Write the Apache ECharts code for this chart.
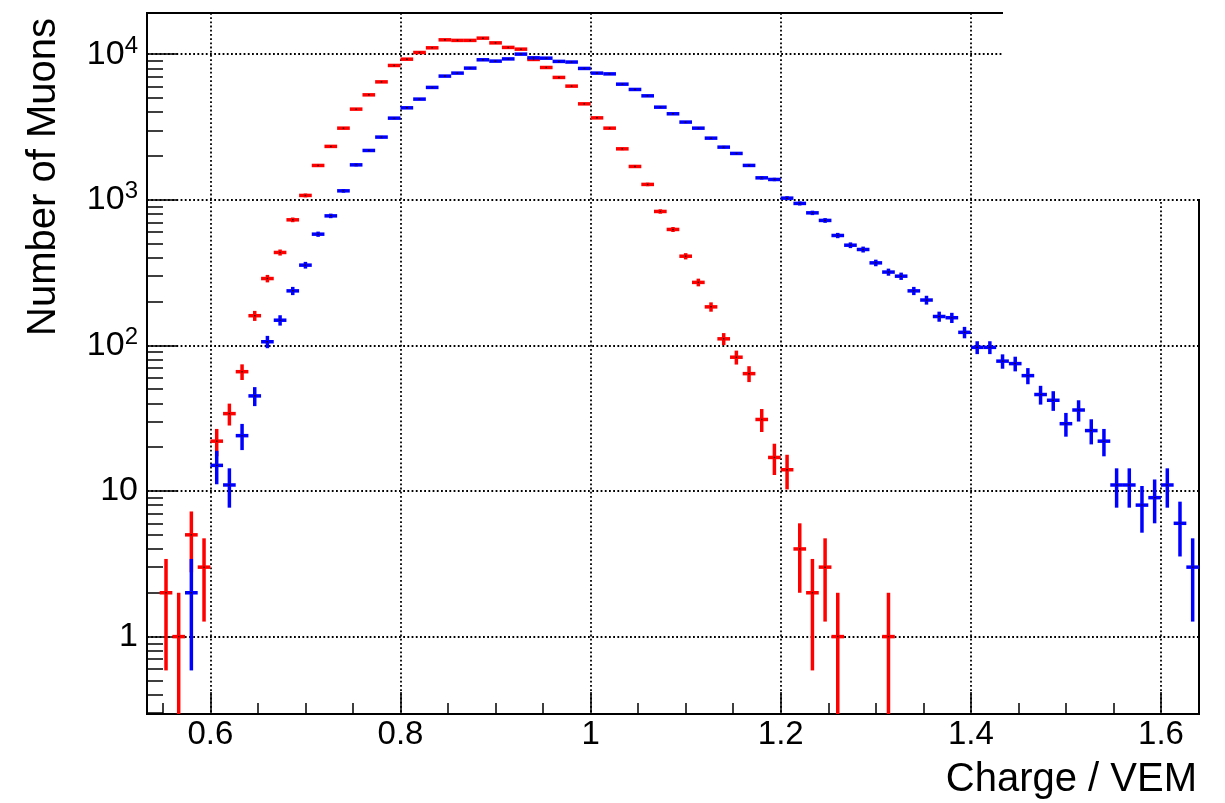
<!DOCTYPE html>
<html>
<head>
<meta charset="utf-8">
<script src="https://cdn.jsdelivr.net/npm/echarts@6/dist/echarts.min.js"></script>
<style>
html,body{margin:0;padding:0;background:#fff;}
#chart{width:1225px;height:803px;}
</style>
</head>
<body>
<div id="chart"></div>
<script>
// Histogram binning (bins of width 1/75 starting at 40/75)
const binLow = 40 / 75;
const binWidth = 1 / 75;
const binCount = 83;

// Counts per bin (red histogram)
const redCounts = [
  0, 2, 1, 5, 3, 22, 34, 66, 160, 288,
  435, 729, 1072, 1722, 2328, 3107, 4198, 5262, 6460, 8374,
  9250, 10280, 11070, 12560, 12450, 12450, 12900, 11970, 11140, 10840,
  9210, 8110, 6930, 6040, 4563, 3656, 3107, 2240, 1695, 1276,
  832, 626, 410, 271, 184, 111, 83, 64, 31, 17,
  14, 4, 2, 3, 1, 0, 0, 0, 1, 0,
  0, 0, 0, 0, 0, 0, 0, 0, 0, 0,
  0, 0, 0, 0, 0, 0, 0, 0, 0, 0,
  0, 0, 0
];

// Counts per bin (blue histogram)
const blueCounts = [
  0, 0, 0, 2, 0, 15, 11, 24, 45, 106,
  149, 237, 356, 581, 776, 1153, 1739, 2183, 2697, 3640,
  4286, 4918, 5918, 7077, 7420, 8030, 9160, 8970, 9290, 10020,
  9450, 9400, 8930, 8840, 7990, 7420, 7330, 6230, 5730, 5180,
  4330, 3900, 3420, 3107, 2653, 2301, 2083, 1723, 1416, 1380,
  1027, 945, 814, 722, 569, 488, 456, 369, 319, 299,
  237, 205, 158, 155, 123, 97, 97, 78, 75, 62,
  46, 42, 29, 36, 26, 22, 11, 11, 8, 9,
  11, 6, 3
];

const xMajorTicks = [0.6, 0.8, 1.0, 1.2, 1.4, 1.6];
const xMinorTicks = [0.55, 0.65, 0.7, 0.75, 0.85, 0.9, 0.95, 1.05, 1.1, 1.15, 1.25, 1.3, 1.35, 1.45, 1.5, 1.55];
const yMajorTicks = [1, 10, 100, 1000, 10000];
const yMinorTicks = [0.3, 0.4, 0.5, 0.6, 0.7, 0.8, 0.9,
  2, 3, 4, 5, 6, 7, 8, 9,
  20, 30, 40, 50, 60, 70, 80, 90,
  200, 300, 400, 500, 600, 700, 800, 900,
  2000, 3000, 4000, 5000, 6000, 7000, 8000, 9000];

const xMin = binLow;
const xMax = binLow + binCount * binWidth;
const yMin = 0.294;
const yMax = 19200;

const FONT = 'Liberation Sans, Helvetica, Arial, sans-serif';

function toData(counts) {
  const out = [];
  for (let i = 0; i < counts.length; i++) {
    if (counts[i] > 0) {
      out.push([binLow + (i + 0.5) * binWidth, counts[i], Math.sqrt(counts[i])]);
    }
  }
  return out;
}

function makeRenderItem(color) {
  return function (params, api) {
    const x = api.value(0), y = api.value(1), e = api.value(2);
    const yLo = Math.max(y - e, yMin);
    const pL = api.coord([x - binWidth / 2, y]);
    const pR = api.coord([x + binWidth / 2, y]);
    const pT = api.coord([x, y + e]);
    const pB = api.coord([x, yLo]);
    const pC = api.coord([x, y]);
    const st = { stroke: color, lineWidth: 3.5, fill: null };
    return {
      type: 'group',
      children: [
        { type: 'line', shape: { x1: pL[0], y1: pL[1], x2: pR[0], y2: pR[1] }, style: st },
        { type: 'line', shape: { x1: pT[0], y1: pT[1], x2: pB[0], y2: pB[1] }, style: st },
        { type: 'rect', shape: { x: pC[0] - 0.75, y: pC[1] - 0.75, width: 1.5, height: 1.5 }, style: { fill: '#300' } }
      ]
    };
  };
}

const chart = echarts.init(document.getElementById('chart'), null, { renderer: 'canvas' });

const gridLine = { show: true, lineStyle: { color: '#000', width: 1.8, type: [1.8, 2.4] } };

chart.setOption({
  animation: false,
  backgroundColor: '#fff',
  grid: { left: 147, right: 26, top: 13, bottom: 89, show: true, borderColor: '#000', borderWidth: 2, backgroundColor: 'transparent' },
  xAxis: [
    {
      type: 'value', min: xMin, max: xMax, position: 'bottom',
      axisLine: { show: false },
      axisTick: { show: true, inside: true, length: 22, customValues: xMajorTicks, lineStyle: { color: '#000', width: 1.5 } },
      axisLabel: { customValues: xMajorTicks, color: '#000', fontSize: 33, fontFamily: FONT, margin: 4 },
      splitLine: gridLine
    },
    {
      type: 'value', min: xMin, max: xMax, position: 'bottom',
      axisLine: { show: false },
      axisTick: { show: true, inside: true, length: 11, customValues: xMinorTicks, lineStyle: { color: '#000', width: 1.5 } },
      axisLabel: { show: false },
      splitLine: { show: false }
    }
  ],
  yAxis: [
    {
      type: 'log', logBase: 10, min: yMin, max: yMax, position: 'left',
      axisLine: { show: false },
      axisTick: { show: true, inside: true, length: 30, customValues: yMajorTicks, lineStyle: { color: '#000', width: 1.5 } },
      axisLabel: {
        customValues: yMajorTicks, color: '#000', fontSize: 34, fontFamily: FONT, margin: 9,
        formatter: function (v) {
          const e = Math.round(Math.log10(v));
          if (e === 0) return '1';
          if (e === 1) return '10';
          return '{b|10}{s|' + e + '}';
        },
        rich: {
          b: { fontSize: 34, lineHeight: 40, fontFamily: FONT, color: '#000' },
          s: { fontSize: 24, lineHeight: 22, verticalAlign: 'top', fontFamily: FONT, color: '#000' }
        }
      },
      splitLine: gridLine
    },
    {
      type: 'log', logBase: 10, min: yMin, max: yMax, position: 'left',
      axisLine: { show: false },
      axisTick: { show: true, inside: true, length: 16, customValues: yMinorTicks, lineStyle: { color: '#000', width: 1.5 } },
      axisLabel: { show: false },
      splitLine: { show: false }
    }
  ],
  series: [
    { type: 'custom', name: 'red', xAxisIndex: 0, yAxisIndex: 0, renderItem: makeRenderItem('#ff0000'), data: toData(redCounts), encode: { x: 0, y: 1 }, z: 3 },
    { type: 'custom', name: 'blue', xAxisIndex: 0, yAxisIndex: 0, renderItem: makeRenderItem('#0000ff'), data: toData(blueCounts), encode: { x: 0, y: 1 }, z: 4 }
  ],
  graphic: [
    { type: 'rect', z: 100, shape: { x: 1003, y: 0, width: 222, height: 199 }, style: { fill: '#fff' } },
    { type: 'text', z: 101, x: 1197, y: 760, style: { text: 'Charge / VEM', fontSize: 40, fontFamily: FONT, fill: '#000', align: 'right', verticalAlign: 'top' } },
    { type: 'text', z: 101, x: 44, y: 177, rotation: Math.PI / 2, style: { text: 'Number of Muons', fontSize: 40, fontFamily: FONT, fill: '#000', align: 'center', verticalAlign: 'middle' } }
  ]
});
</script>
</body>
</html>
